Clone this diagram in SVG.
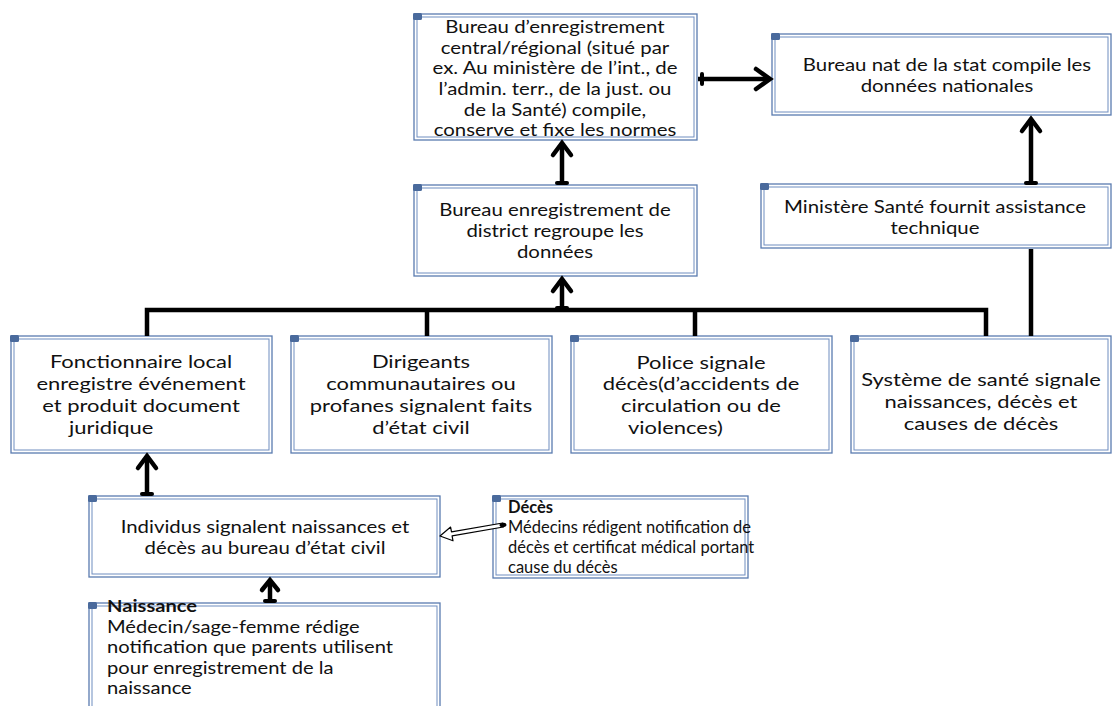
<svg xmlns="http://www.w3.org/2000/svg" width="1112" height="706" viewBox="0 0 1112 706">
<defs>
<style>
.o{fill:#fff;stroke:#5a7bb0;stroke-width:1.3}
.i{fill:none;stroke:#6f8dbf;stroke-width:1}
.k{fill:#4a6a9c}
text{font-family:Lato,"Open Sans","Liberation Sans",sans-serif;font-size:17px;fill:#111}
.c{text-anchor:middle}
.b{font-weight:bold}
.m{font-size:18px}
.s{font-size:16.5px}
.ln{fill:none;stroke:#000;stroke-width:4.5;stroke-linejoin:miter}
.ah{fill:none;stroke:#000;stroke-width:4.5;stroke-linecap:round;stroke-linejoin:miter}
</style>
</defs>
<rect width="1112" height="706" fill="#fff"/>

<g id="central">
<rect class="o" x="414" y="14" width="283" height="126"/>
<rect class="i" x="417" y="17" width="277" height="120"/>
<rect class="k" x="413" y="13" width="9" height="7" rx="1.5"/>
<g transform="matrix(1.2 0 0 1 -111 0)">
<text class="c" x="555" y="33">Bureau d’enregistrement</text>
<text class="c" x="555" y="54">central/régional (situé par</text>
<text class="c" x="555" y="74">ex. Au ministère de l’int., de</text>
<text class="c" x="555" y="95">l’admin. terr., de la just. ou</text>
<text class="c" x="555" y="116">de la Santé) compile,</text>
<text class="c" x="555" y="136">conserve et fixe les normes</text>
</g>
</g>

<g id="nat">
<rect class="o" x="772" y="34" width="339" height="81"/>
<rect class="i" x="775" y="37" width="333" height="75"/>
<rect class="k" x="771" y="33" width="9" height="7" rx="1.5"/>
<g transform="matrix(1.2 0 0 1 -189.4 0)">
<text class="c" x="947" y="71">Bureau nat de la stat compile les</text>
<text class="c" x="947" y="92">données nationales</text>
</g>
</g>

<g id="district">
<rect class="o" x="414" y="185" width="283" height="91"/>
<rect class="i" x="417" y="188" width="277" height="85"/>
<rect class="k" x="413" y="184" width="9" height="7" rx="1.5"/>
<g transform="matrix(1.2 0 0 1 -111 0)">
<text class="c" x="555" y="216">Bureau enregistrement de</text>
<text class="c" x="555" y="237">district regroupe les</text>
<text class="c" x="555" y="258">données</text>
</g>
</g>

<g id="ministere">
<rect class="o" x="761" y="184" width="350" height="64"/>
<rect class="i" x="764" y="187" width="344" height="58"/>
<rect class="k" x="760" y="183" width="9" height="7" rx="1.5"/>
<g transform="matrix(1.2 0 0 1 -187 0)">
<text class="c" x="935" y="213">Ministère Santé fournit assistance</text>
<text class="c" x="935" y="234">technique</text>
</g>
</g>

<g id="fonctionnaire">
<rect class="o" x="11" y="336" width="261" height="117"/>
<rect class="i" x="14" y="339" width="255" height="111"/>
<rect class="k" x="10" y="335" width="9" height="7" rx="1.5"/>
<g transform="matrix(1.22 0 0 1 -31.02 0)">
<text class="c m" x="141" y="368">Fonctionnaire local</text>
<text class="c m" x="141" y="390">enregistre événement</text>
<text class="c m" x="141" y="412">et produit document</text>
<text class="m" x="82" y="434">juridique</text>
</g>
</g>

<g id="dirigeants">
<rect class="o" x="291" y="336" width="261" height="117"/>
<rect class="i" x="294" y="339" width="255" height="111"/>
<rect class="k" x="290" y="335" width="9" height="7" rx="1.5"/>
<g transform="matrix(1.22 0 0 1 -92.62 0)">
<text class="c m" x="421" y="368">Dirigeants</text>
<text class="c m" x="421" y="390">communautaires ou</text>
<text class="c m" x="421" y="412">profanes signalent faits</text>
<text class="c m" x="421" y="434">d’état civil</text>
</g>
</g>

<g id="police">
<rect class="o" x="571" y="336" width="261" height="117"/>
<rect class="i" x="574" y="339" width="255" height="111"/>
<rect class="k" x="570" y="335" width="9" height="7" rx="1.5"/>
<g transform="matrix(1.22 0 0 1 -154.22 0)">
<text class="c m" x="701" y="369">Police signale</text>
<text class="c m" x="701" y="390">décès(d’accidents de</text>
<text class="c m" x="701" y="412">circulation ou de</text>
<text class="m" x="641.2" y="434">violences)</text>
</g>
</g>

<g id="systeme">
<rect class="o" x="851" y="336" width="260" height="117"/>
<rect class="i" x="854" y="339" width="254" height="111"/>
<rect class="k" x="850" y="335" width="9" height="7" rx="1.5"/>
<g transform="matrix(1.22 0 0 1 -215.82 0)">
<text class="c m" x="981" y="386">Système de santé signale</text>
<text class="c m" x="981" y="408">naissances, décès et</text>
<text class="c m" x="981" y="430">causes de décès</text>
</g>
</g>

<g id="individus">
<rect class="o" x="89" y="496" width="351" height="81"/>
<rect class="i" x="92" y="499" width="345" height="75"/>
<rect class="k" x="88" y="495" width="9" height="7" rx="1.5"/>
<g transform="matrix(1.2 0 0 1 -53 0)">
<text class="c" x="265" y="533">Individus signalent naissances et</text>
<text class="c" x="265" y="554">décès au bureau d’état civil</text>
</g>
</g>

<g id="deces">
<rect class="o" x="493" y="496" width="255" height="82"/>
<rect class="i" x="496" y="499" width="249" height="76"/>
<rect class="k" x="492" y="495" width="9" height="7" rx="1.5"/>
<text class="b s" x="508" y="513">Décès</text>
<text class="s" x="508" y="533">Médecins rédigent notification de</text>
<text class="s" x="508" y="553">décès et certificat médical portant</text>
<text class="s" x="508" y="573">cause du décès</text>
</g>

<g id="naissance">
<rect class="o" x="89" y="603" width="351" height="110"/>
<rect class="i" x="92" y="606" width="345" height="104"/>
<rect class="k" x="88" y="602" width="9" height="7" rx="1.5"/>
<g transform="matrix(1.22 0 0 1 -23.54 0)">
<text class="b s" x="107" y="612">Naissance</text>
<text class="s" x="107" y="633">Médecin/sage-femme rédige</text>
<text class="s" x="107" y="653">notification que parents utilisent</text>
<text class="s" x="107" y="674">pour enregistrement de la</text>
<text class="s" x="107" y="694">naissance</text>
</g>
</g>

<g id="connectors">
<path class="ln" d="M698,79 H769"/>
<path class="ah" d="M756,69 L770,79 L756,89"/>
<rect x="700" y="72" width="4" height="14" rx="2"/>
<path class="ln" d="M562,184 V143"/>
<path class="ah" d="M553,155 L562,143 L571,155"/>
<rect x="555" y="181" width="14" height="4" rx="2"/>
<path class="ln" d="M147,336 V310 H986 V336"/>
<path class="ln" d="M427,310 V336 M695,310 V336"/>
<path class="ln" d="M562,310 V279"/>
<path class="ah" d="M553,291 L562,279 L571,291"/>
<rect x="555" y="306" width="14" height="4" rx="2"/>
<path class="ln" d="M1031,336 V249"/>
<path class="ln" d="M1031,184 V119"/>
<path class="ah" d="M1022,131 L1031,119 L1040,131"/>
<rect x="1024" y="181" width="14" height="4" rx="2"/>
<path class="ln" d="M147,495 V456"/>
<path class="ah" d="M138,468 L147,456 L156,468"/>
<rect x="140" y="492" width="14" height="4" rx="2"/>
<path class="ln" d="M270,602 V580"/>
<path class="ah" d="M262,590 L270,580 L278,590"/>
<rect x="263" y="599" width="14" height="4" rx="2"/>
<path d="M502.7,523 L451.5,531.9 L450.6,527 L440,536 L453,540.8 L452.1,535.9 L503.3,527 Z" fill="#fff" stroke="#000" stroke-width="1.2" stroke-linejoin="round"/>
<ellipse cx="503" cy="525" rx="3.5" ry="2.2" transform="rotate(-10 503 525)"/>
</g>
</svg>
